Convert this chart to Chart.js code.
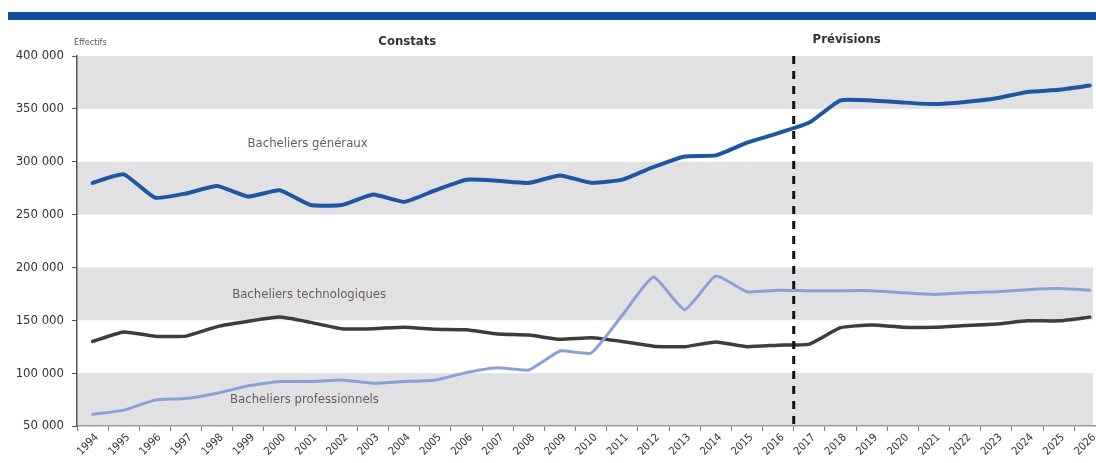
<!DOCTYPE html>
<html>
<head>
<meta charset="utf-8">
<script src="https://cdn.jsdelivr.net/npm/chart.js@4.4.1/dist/chart.umd.min.js"></script>
<style>
    html, body { margin: 0; padding: 0; background: #fff; }
    #wrap { position: relative; width: 1096px; height: 463px; }
    #topBar { position: absolute; left: 8px; top: 12px; width: 1088px; height: 8px; background: #0e4d9c; }
    canvas { position: absolute; left: 0; top: 0; }
</style>
</head>
<body>
<div id="wrap">
    <div id="topBar"></div>
    <canvas id="bacChart" width="1096" height="463"></canvas>
</div>
<script>
// Years (constats 1994-2016, previsions 2017-2026)
const years = [1994, 1995, 1996, 1997, 1998, 1999, 2000, 2001, 2002, 2003, 2004,
    2005, 2006, 2007, 2008, 2009, 2010, 2011, 2012, 2013, 2014, 2015, 2016,
    2017, 2018, 2019, 2020, 2021, 2022, 2023, 2024, 2025, 2026];

// Effectifs
const generaux = [280000, 288000, 266000, 270000, 277000, 267000, 273000, 259000, 259000, 269000, 262000,
    273000, 283000, 282000, 280000, 287000, 280000, 283000, 295000, 305000, 306000, 318000, 327000,
    337000, 358000, 358000, 356000, 354500, 356500, 360000, 366000, 368000, 372000];
const technologiques = [130000, 139000, 135000, 135000, 144000, 149000, 153000, 148000, 142000, 142000, 143500,
    141500, 141000, 137000, 136000, 132000, 133500, 130000, 125500, 125000, 129500, 125000, 126500,
    127500, 143000, 145500, 143500, 143500, 145000, 146500, 149500, 149500, 153000];
const professionnels = [61000, 65000, 74500, 76000, 81000, 88000, 92000, 92000, 93500, 90500, 92000,
    93500, 100500, 105000, 103000, 121000, 119000, 155000, 191000, 160000, 192000, 177000, 178500,
    178000, 178000, 178000, 176000, 174500, 176000, 177000, 179000, 180000, 178500];

// Axis
const yTicks = [50000, 100000, 150000, 200000, 250000, 300000, 350000, 400000];
const greyBands = [[50000, 100000], [150000, 200000], [250000, 300000], [350000, 400000]];
const splitYear = 2016.5;

// Series labels placed in the plot
const seriesLabels = [
    { text: 'Bacheliers généraux', year: 2000.9, value: 317500 },
    { text: 'Bacheliers technologiques', year: 2000.95, value: 174000 },
    { text: 'Bacheliers professionnels', year: 2000.8, value: 74500 }
];

function formatThousands(v) {
    return String(v).replace(/\B(?=(\d{3})+(?!\d))/g, ' ');
}

function toPoints(values) {
    return years.map((y, i) => ({ x: y, y: values[i] }));
}

const narrow = "'Liberation Sans Narrow', 'DejaVu Sans Condensed', 'Liberation Sans', sans-serif";

// Grey bands behind the lines
const bandsPlugin = {
    id: 'bands',
    beforeDraw(chart) {
        const ctx = chart.ctx;
        const area = chart.chartArea;
        const y = chart.scales.y;
        ctx.save();
        ctx.fillStyle = '#e1e1e3';
        greyBands.forEach(b => {
            const top = y.getPixelForValue(b[1]);
            const bottom = y.getPixelForValue(b[0]);
            ctx.fillRect(area.left, top, area.right - area.left - 3, bottom - top);
        });
        ctx.restore();
    }
};

// Dashed separator and texts
const overlayPlugin = {
    id: 'overlay',
    afterDatasetsDraw(chart) {
        const ctx = chart.ctx;
        const area = chart.chartArea;
        const x = chart.scales.x.getPixelForValue(splitYear);
        ctx.save();
        ctx.strokeStyle = '#111';
        ctx.lineWidth = 3;
        ctx.setLineDash([8, 7]);
        ctx.beginPath();
        ctx.moveTo(x, area.top);
        ctx.lineTo(x, area.bottom);
        ctx.stroke();
        ctx.restore();
    },
    afterDraw(chart) {
        const ctx = chart.ctx;
        const area = chart.chartArea;
        const xs = chart.scales.x;
        const ys = chart.scales.y;
        ctx.save();
        ctx.textBaseline = 'middle';

        ctx.fillStyle = '#6a5862';
        ctx.font = '13px ' + narrow;
        ctx.textAlign = 'center';
        seriesLabels.forEach(l => {
            ctx.fillText(l.text, xs.getPixelForValue(l.year), ys.getPixelForValue(l.value));
        });

        ctx.fillStyle = '#333';
        ctx.font = 'bold 13px ' + narrow;
        ctx.fillText('Constats', xs.getPixelForValue(2004.1), area.top - 14);
        ctx.fillText('Prévisions', xs.getPixelForValue(2018.2), area.top - 16);

        ctx.fillStyle = '#555';
        ctx.font = '9px ' + narrow;
        ctx.textAlign = 'left';
        ctx.fillText('Effectifs', area.left - 3, area.top - 13);
        ctx.restore();
    }
};

const lineStyle = {
    fill: false,
    pointRadius: 0,
    tension: 0.15,
    borderJoinStyle: 'round',
    borderCapStyle: 'round'
};

const ctx = document.getElementById('bacChart').getContext('2d');
new Chart(ctx, {
    type: 'line',
    data: {
        datasets: [
            Object.assign({ label: 'Bacheliers professionnels', data: toPoints(professionnels), borderColor: '#8b9fdb', borderWidth: 3 }, lineStyle),
            Object.assign({ label: 'Bacheliers technologiques', data: toPoints(technologiques), borderColor: '#3d3d3f', borderWidth: 3.5 }, lineStyle),
            Object.assign({ label: 'Bacheliers généraux', data: toPoints(generaux), borderColor: '#1c57a4', borderWidth: 4 }, lineStyle)
        ]
    },
    options: {
        responsive: false,
        animation: false,
        layout: { padding: { top: 56, right: 0, bottom: 0, left: 0 } },
        plugins: {
            legend: { display: false },
            tooltip: { enabled: false }
        },
        scales: {
            x: {
                type: 'linear',
                min: 1993.5,
                max: 2026.2,
                afterBuildTicks: scale => { scale.ticks = years.map(y => ({ value: y - 0.5 })); },
                afterFit: scale => { scale.height = 37; },
                grid: { drawOnChartArea: false, tickLength: 5, color: '#777' },
                border: { color: '#9a9a9a', width: 1.5 },
                ticks: {
                    autoSkip: false,
                    maxRotation: 45,
                    minRotation: 45,
                    padding: 0,
                    labelOffset: 20,
                    color: '#3b3030',
                    font: { family: narrow, size: 11 },
                    callback: v => String(v + 0.5)
                }
            },
            y: {
                min: 50000,
                max: 400000,
                afterBuildTicks: scale => { scale.ticks = yTicks.map(v => ({ value: v })); },
                afterFit: scale => { scale.width = 77; },
                grid: { drawOnChartArea: false, tickLength: 5, color: '#555' },
                border: { color: '#555', width: 1.5 },
                ticks: {
                    padding: 8,
                    color: '#3b3030',
                    font: { family: narrow, size: 13 },
                    callback: v => formatThousands(v)
                }
            }
        }
    },
    plugins: [bandsPlugin, overlayPlugin]
});
</script>
</body>
</html>
